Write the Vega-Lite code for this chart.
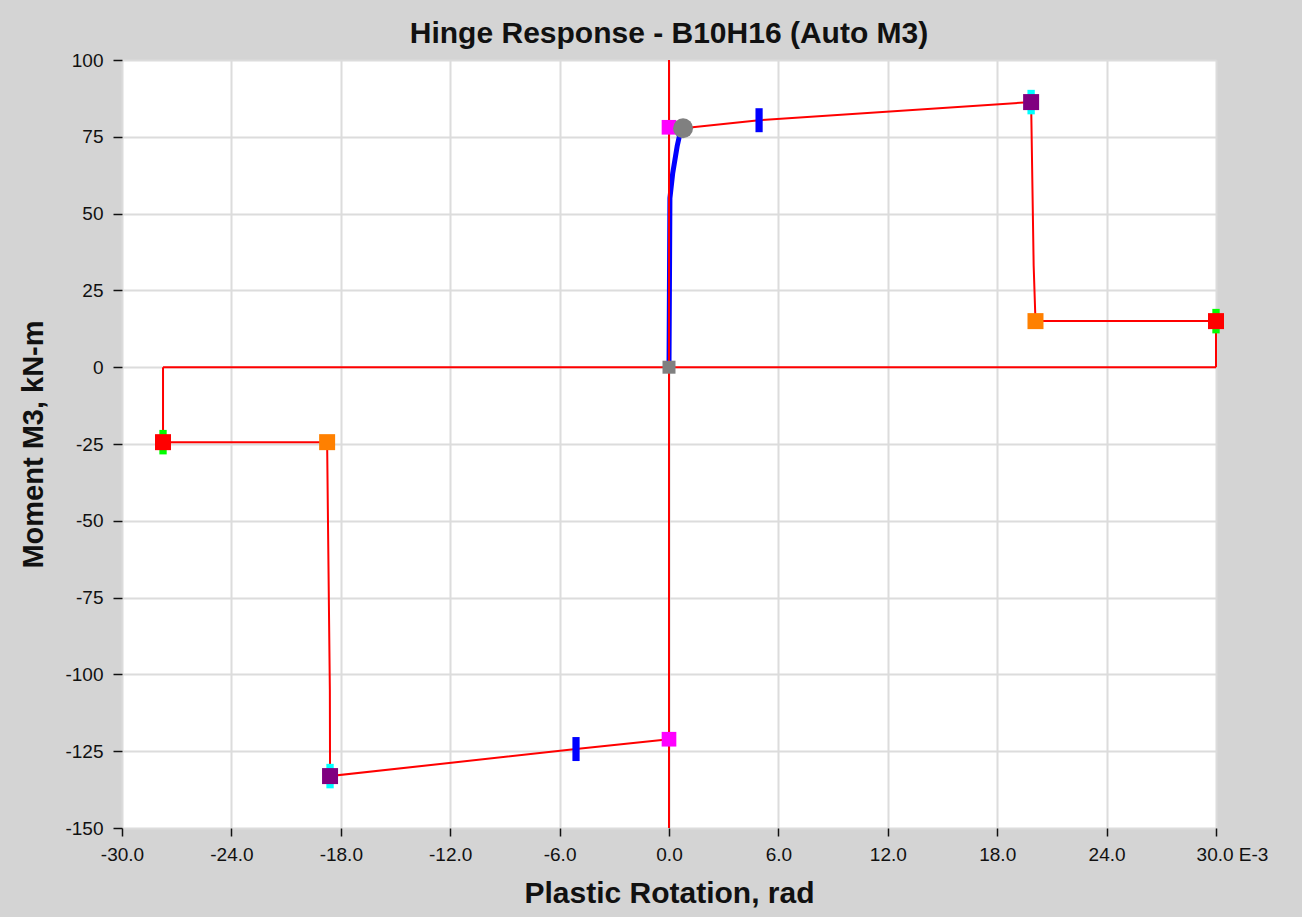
{
  "$schema": "https://vega.github.io/schema/vega-lite/v6.json",
  "width": 1094,
  "height": 768,
  "autosize": "none",
  "padding": {"left": 122, "top": 60, "right": 86, "bottom": 89},
  "background": "#d4d4d4",
  "title": {
    "text": "Hinge Response - B10H16 (Auto M3)",
    "font": "Liberation Sans",
    "fontSize": 30,
    "fontWeight": "bold",
    "color": "#111111",
    "anchor": "middle",
    "frame": "group",
    "baseline": "alphabetic",
    "offset": -22
  },
  "config": {
    "view": {"fill": "white", "stroke": null},
    "axis": {
      "labelFont": "Liberation Sans",
      "labelFontSize": 19,
      "labelColor": "#111111",
      "titleFont": "Liberation Sans",
      "titleFontWeight": "bold",
      "titleColor": "#111111",
      "gridColor": "#dcdcdc",
      "gridWidth": 2,
      "tickColor": "#111111",
      "tickWidth": 1.5,
      "domain": false,
      "labelFlush": false,
      "labelOverlap": false
    }
  },
  "datasets": {
    "red": [
      {"seg": "zero-v", "ord": 1, "x": 0, "y": 100},
      {"seg": "zero-v", "ord": 2, "x": 0, "y": -150},
      {"seg": "zero-h", "ord": 1, "x": -27.75, "y": 0},
      {"seg": "zero-h", "ord": 2, "x": 30, "y": 0},
      {"seg": "pos", "ord": 1, "x": 30, "y": 0},
      {"seg": "pos", "ord": 2, "x": 30, "y": 15},
      {"seg": "pos", "ord": 3, "x": 20.1, "y": 15},
      {"seg": "pos", "ord": 4, "x": 20.0, "y": 33},
      {"seg": "pos", "ord": 5, "x": 19.86, "y": 86.3},
      {"seg": "pos", "ord": 6, "x": 4.94, "y": 80.4},
      {"seg": "pos", "ord": 7, "x": 0.77, "y": 77.8},
      {"seg": "pos", "ord": 8, "x": 0, "y": 78.1},
      {"seg": "neg", "ord": 1, "x": -27.75, "y": 0},
      {"seg": "neg", "ord": 2, "x": -27.75, "y": -24.4},
      {"seg": "neg", "ord": 3, "x": -18.75, "y": -24.4},
      {"seg": "neg", "ord": 4, "x": -18.7, "y": -52},
      {"seg": "neg", "ord": 5, "x": -18.6, "y": -105},
      {"seg": "neg", "ord": 6, "x": -18.59, "y": -133.1},
      {"seg": "neg", "ord": 7, "x": -5.1, "y": -124.3},
      {"seg": "neg", "ord": 8, "x": 0, "y": -121.1}
    ],
    "blue": [
      {"ord": 1, "x": 0, "y": 0},
      {"ord": 2, "x": 0.05, "y": 55},
      {"ord": 3, "x": 0.2, "y": 63},
      {"ord": 4, "x": 0.45, "y": 72},
      {"ord": 5, "x": 0.6, "y": 76},
      {"ord": 6, "x": 0.77, "y": 77.8}
    ],
    "markers": [
      {"type": "LS", "x": 19.86, "y": 86.3},
      {"type": "LS", "x": -18.59, "y": -133.1},
      {"type": "CP", "x": 30, "y": 15},
      {"type": "CP", "x": -27.75, "y": -24.4},
      {"type": "C", "x": 19.86, "y": 86.3},
      {"type": "C", "x": -18.59, "y": -133.1},
      {"type": "E", "x": 30, "y": 15},
      {"type": "E", "x": -27.75, "y": -24.4},
      {"type": "D", "x": 20.1, "y": 15},
      {"type": "D", "x": -18.75, "y": -24.4},
      {"type": "B", "x": 0, "y": 78.1},
      {"type": "B", "x": 0, "y": -121.1},
      {"type": "IO", "x": 4.94, "y": 80.4},
      {"type": "IO", "x": -5.1, "y": -124.3},
      {"type": "origin", "x": 0, "y": 0},
      {"type": "current", "x": 0.77, "y": 77.8}
    ]
  },
  "encoding": {
    "x": {
      "field": "x",
      "type": "quantitative",
      "scale": {"domain": [-30, 30], "nice": false, "zero": false},
      "axis": {
        "title": "Plastic Rotation, rad",
        "titleFontSize": 30,
        "titlePadding": 14,
        "values": [-30, -24, -18, -12, -6, 0, 6, 12, 18, 24, 30],
        "labelExpr": "datum.value == 30 ? '30.0 E-3' : (datum.value < 0 ? '-' : '') + format(abs(datum.value), '.1f')",
        "labelOffset": {"condition": {"test": "datum.value == 30", "value": 16}, "value": 0},
        "tickSize": 8,
        "labelPadding": 9
      }
    },
    "y": {
      "field": "y",
      "type": "quantitative",
      "scale": {"domain": [-150, 100], "nice": false, "zero": false},
      "axis": {
        "title": "Moment M3, kN-m",
        "titleFontSize": 29,
        "titlePadding": 16,
        "values": [-150, -125, -100, -75, -50, -25, 0, 25, 50, 75, 100],
        "labelExpr": "(datum.value < 0 ? '-' : '') + format(abs(datum.value), 'd')",
        "tickSize": 9,
        "labelPadding": 10
      }
    },
    "color": {
      "field": "type",
      "type": "nominal",
      "scale": {
        "domain": ["LS", "CP", "C", "E", "D", "B", "IO", "origin", "current"],
        "range": ["#00ffff", "#00ff00", "#800080", "#ff0000", "#ff8000", "#ff00ff", "#0000ff", "#808080", "#808080"]
      },
      "legend": null
    }
  },
  "layer": [
    {
      "data": {"name": "blue"},
      "mark": {"type": "line", "color": "#0000ff", "strokeWidth": 5},
      "encoding": {"order": {"field": "ord", "type": "quantitative"}, "color": {"value": "#0000ff"}}
    },
    {
      "data": {"name": "red"},
      "mark": {"type": "line", "color": "#ff0000", "strokeWidth": 2},
      "encoding": {
        "detail": {"field": "seg", "type": "nominal"},
        "order": {"field": "ord", "type": "quantitative"},
        "color": {"value": "#ff0000"}
      }
    },
    {
      "data": {"name": "markers"},
      "transform": [{"filter": "datum.type == 'LS' || datum.type == 'CP'"}],
      "mark": {"type": "point", "filled": true, "opacity": 1, "strokeWidth": 0, "shape": "M-0.3,-1H0.3V1H-0.3Z", "size": 600}
    },
    {
      "data": {"name": "markers"},
      "transform": [{"filter": "datum.type == 'C' || datum.type == 'E' || datum.type == 'D'"}],
      "mark": {"type": "point", "filled": true, "opacity": 1, "strokeWidth": 0, "shape": "square", "size": 256}
    },
    {
      "data": {"name": "markers"},
      "transform": [{"filter": "datum.type == 'B'"}],
      "mark": {"type": "point", "filled": true, "opacity": 1, "strokeWidth": 0, "shape": "square", "size": 215}
    },
    {
      "data": {"name": "markers"},
      "transform": [{"filter": "datum.type == 'IO'"}],
      "mark": {"type": "point", "filled": true, "opacity": 1, "strokeWidth": 0, "shape": "M-0.3,-1H0.3V1H-0.3Z", "size": 576}
    },
    {
      "data": {"name": "markers"},
      "transform": [{"filter": "datum.type == 'origin'"}],
      "mark": {"type": "point", "filled": true, "opacity": 1, "strokeWidth": 0, "shape": "square", "size": 169}
    },
    {
      "data": {"name": "markers"},
      "transform": [{"filter": "datum.type == 'current'"}],
      "mark": {"type": "point", "filled": true, "opacity": 1, "strokeWidth": 0, "shape": "circle", "size": 400}
    }
  ]
}
